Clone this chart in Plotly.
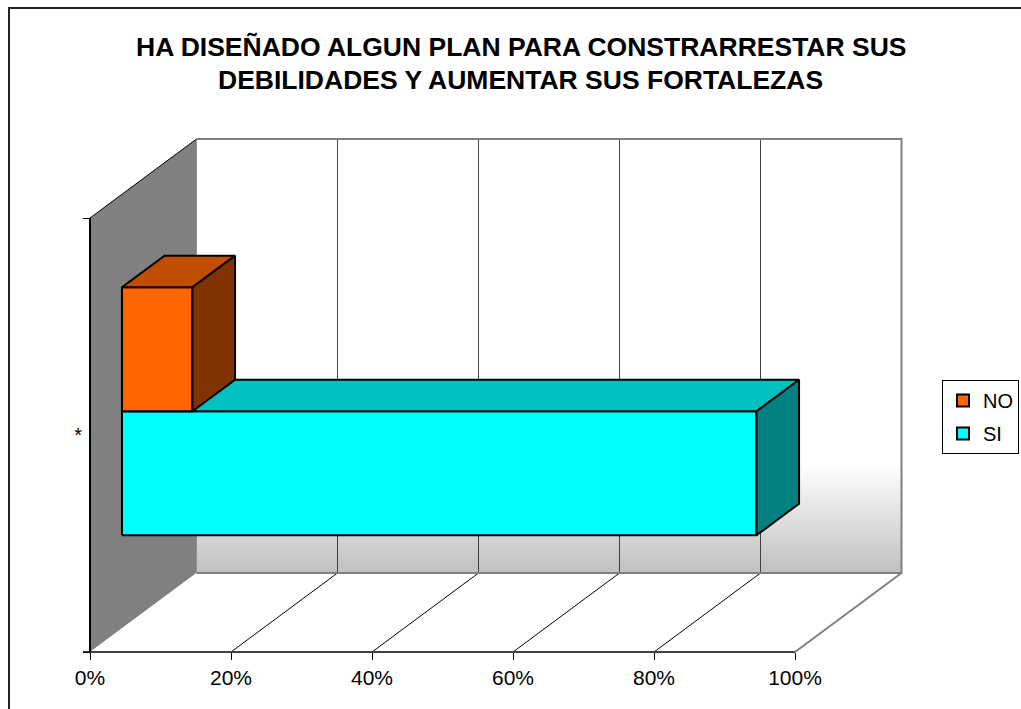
import plotly.graph_objects as go

# ---------------- data ----------------
categories = ["*"]
series_names = ["NO", "SI"]
series_values = [10, 90]          # percent
x_ticks = [0, 20, 40, 60, 80, 100]
x_tick_labels = ["0%", "20%", "40%", "60%", "80%", "100%"]
title_lines = ["HA DISEÑADO ALGUN PLAN PARA CONSTRARRESTAR SUS",
               "DEBILIDADES Y AUMENTAR SUS FORTALEZAS"]

# ---------------- style ----------------
face_colors = {
    "NO": ("#FF6600", "#C04D00", "#803300"),   # front, top, side
    "SI": ("#00FFFF", "#00C0C0", "#008080"),
}
W, H = 1021, 709
PL, PR, PT, PB = 78, 920, 130, 662       # plot-area pixel box
X0PX, FLOORPX = 90, 652                   # pixel of value 0 / floor front
PX_PER_PCT = 7.05
PX_PER_CAT = 434.0
DX = 106.5 / PX_PER_PCT                   # depth offset (x units)
DY = 79.0 / PX_PER_CAT                    # depth offset (y units)
D0, D1 = 0.30, 0.70                       # bar depth span
GAP = 1.5                                 # gap width 150%
FONT = "Arial, Liberation Sans, sans-serif"


def proj(v, y, d):
    return v + d * DX, y + d * DY


def poly(points):
    xs, ys = [], []
    for p in points + [points[0]]:
        x, y = proj(*p)
        xs.append(x)
        ys.append(y)
    return xs, ys


def seg(p, q):
    a, b = proj(*p), proj(*q)
    return [a[0], b[0]], [a[1], b[1]]


fig = go.Figure()
vmax = x_ticks[-1]

# back wall with vertical gradient
xs, ys = poly([(0, 0, 1), (vmax, 0, 1), (vmax, 1, 1), (0, 1, 1)])
fig.add_trace(go.Scatter(
    x=xs, y=ys, mode="lines", fill="toself", line=dict(width=0),
    fillgradient=dict(type="vertical",
                      colorscale=[[0, "#C0C0C0"], [0.25, "#FFFFFF"], [1, "#FFFFFF"]],
                      start=DY, stop=1 + DY),
    hoverinfo="skip", showlegend=False))

# left wall
xs, ys = poly([(0, 0, 0), (0, 1, 0), (0, 1, 1), (0, 0, 1)])
fig.add_trace(go.Scatter(x=xs, y=ys, mode="lines", fill="toself",
                         fillcolor="#808080", line=dict(width=0),
                         hoverinfo="skip", showlegend=False))

# floor
xs, ys = poly([(0, 0, 0), (vmax, 0, 0), (vmax, 0, 1), (0, 0, 1)])
fig.add_trace(go.Scatter(x=xs, y=ys, mode="lines", fill="toself",
                         fillcolor="#FFFFFF", line=dict(width=0),
                         hoverinfo="skip", showlegend=False))


def add_line(xs, ys, color, width):
    fig.add_trace(go.Scatter(x=xs, y=ys, mode="lines",
                             line=dict(color=color, width=width),
                             hoverinfo="skip", showlegend=False))


# gridlines on back wall and floor
for v in x_ticks[1:-1]:
    add_line(*seg((v, 0, 1), (v, 1, 1)), "#404040", 1)
    add_line(*seg((v, 0, 0), (v, 0, 1)), "#000000", 1)

# back wall border (gray)
xs, ys = poly([(0, 1, 1), (vmax, 1, 1), (vmax, 0, 1), (0, 0, 1)])
add_line(xs[:4], ys[:4], "#808080", 2)
add_line(*seg((0, 0, 1), (0, 1, 1)), "#909090", 1)
# floor right edge
add_line(*seg((vmax, 0, 0), (vmax, 0, 1)), "#808080", 2)
# floor front edge
add_line([-1.0, vmax], [0, 0], "#404040", 2)
# left wall front + top edges
add_line(*seg((0, 0, 0), (0, 1, 0)), "#000000", 2)
add_line(*seg((0, 1, 0), (0, 1, 1)), "#000000", 1)

# bars (3D): SI below, NO above
t = 1.0 / (len(series_names) + GAP)
center = 0.5
order = list(range(len(series_names)))[::-1]   # draw lower bar first
for i in order:
    name = series_names[i]
    v = series_values[i]
    k = len(series_names) - 1 - i
    ya = center - len(series_names) * t / 2 + k * t
    yb = ya + t
    front, top, side = face_colors[name]
    faces = [
        ([(0, ya, D0), (v, ya, D0), (v, yb, D0), (0, yb, D0)], front),
        ([(0, yb, D0), (v, yb, D0), (v, yb, D1), (0, yb, D1)], top),
        ([(v, ya, D0), (v, ya, D1), (v, yb, D1), (v, yb, D0)], side),
    ]
    for pts, col in faces:
        xs, ys = poly(pts)
        fig.add_trace(go.Scatter(
            x=xs, y=ys, mode="lines", fill="toself", fillcolor=col,
            line=dict(color="#000000", width=2), name=name,
            hovertemplate=f"{name}: {v}%<extra></extra>", showlegend=False))

# legend entries
for name in series_names:
    fig.add_trace(go.Scatter(
        x=[None], y=[None], mode="markers", name=name,
        marker=dict(symbol="square", size=12, color=face_colors[name][0],
                    line=dict(color="#000000", width=2)),
        legendgroup=name))

pw, ph = PR - PL, PB - PT


def px2paper(px, py):
    return (px - PL) / pw, (PB - py) / ph


xr = [(PL - X0PX) / PX_PER_PCT, (PR - X0PX) / PX_PER_PCT]
yr = [(FLOORPX - PB) / PX_PER_CAT, (FLOORPX - PT) / PX_PER_CAT]

annotations = []
for line, py in zip(title_lines, [47, 80]):
    xp, yp = px2paper(520.5, py)
    annotations.append(dict(text=f"<b>{line}</b>", x=xp, y=yp, xref="paper",
                            yref="paper", xanchor="center", yanchor="middle",
                            showarrow=False,
                            font=dict(family=FONT, size=26.5, color="#000000")))

bx0, by0 = px2paper(9, 8)
bx1, by1 = px2paper(1060, 740)
lx, ly = px2paper(942, 380)

fig.update_layout(
    width=W, height=H,
    margin=dict(l=PL, r=W - PR, t=PT, b=H - PB, pad=0, autoexpand=False),
    paper_bgcolor="#FFFFFF", plot_bgcolor="rgba(0,0,0,0)",
    font=dict(family=FONT, color="#000000"),
    xaxis=dict(range=xr, anchor="free", position=px2paper(0, FLOORPX)[1],
               tickvals=x_ticks, ticktext=x_tick_labels, ticks="outside",
               ticklen=7, tickwidth=1, tickcolor="#000000", showgrid=False,
               zeroline=False, showline=False, fixedrange=True,
               automargin=False,
               tickfont=dict(size=21, family=FONT, color="#000000")),
    yaxis=dict(range=yr, anchor="free", position=px2paper(X0PX, 0)[0],
               tickvals=[0.5], ticktext=categories, ticks="", showgrid=False,
               zeroline=False, showline=False, fixedrange=True,
               automargin=False, ticklabelstandoff=8,
               tickfont=dict(size=20, family=FONT, color="#000000"),
               minor=dict(tickvals=[0, 1], ticks="outside", ticklen=7,
                          tickcolor="#000000", tickwidth=1, showgrid=False)),
    legend=dict(x=lx, y=ly, xanchor="left", yanchor="top",
                bordercolor="#000000", borderwidth=1, bgcolor="#FFFFFF",
                font=dict(family=FONT, size=20, color="#000000"),
                tracegroupgap=4, itemwidth=30),
    annotations=annotations,
    shapes=[dict(type="rect", xref="paper", yref="paper", x0=bx0, y0=by1,
                 x1=bx1, y1=by0, line=dict(color="#222222", width=2),
                 fillcolor="rgba(0,0,0,0)", layer="above")],
    showlegend=True,
)

fig.write_html("out.html")
